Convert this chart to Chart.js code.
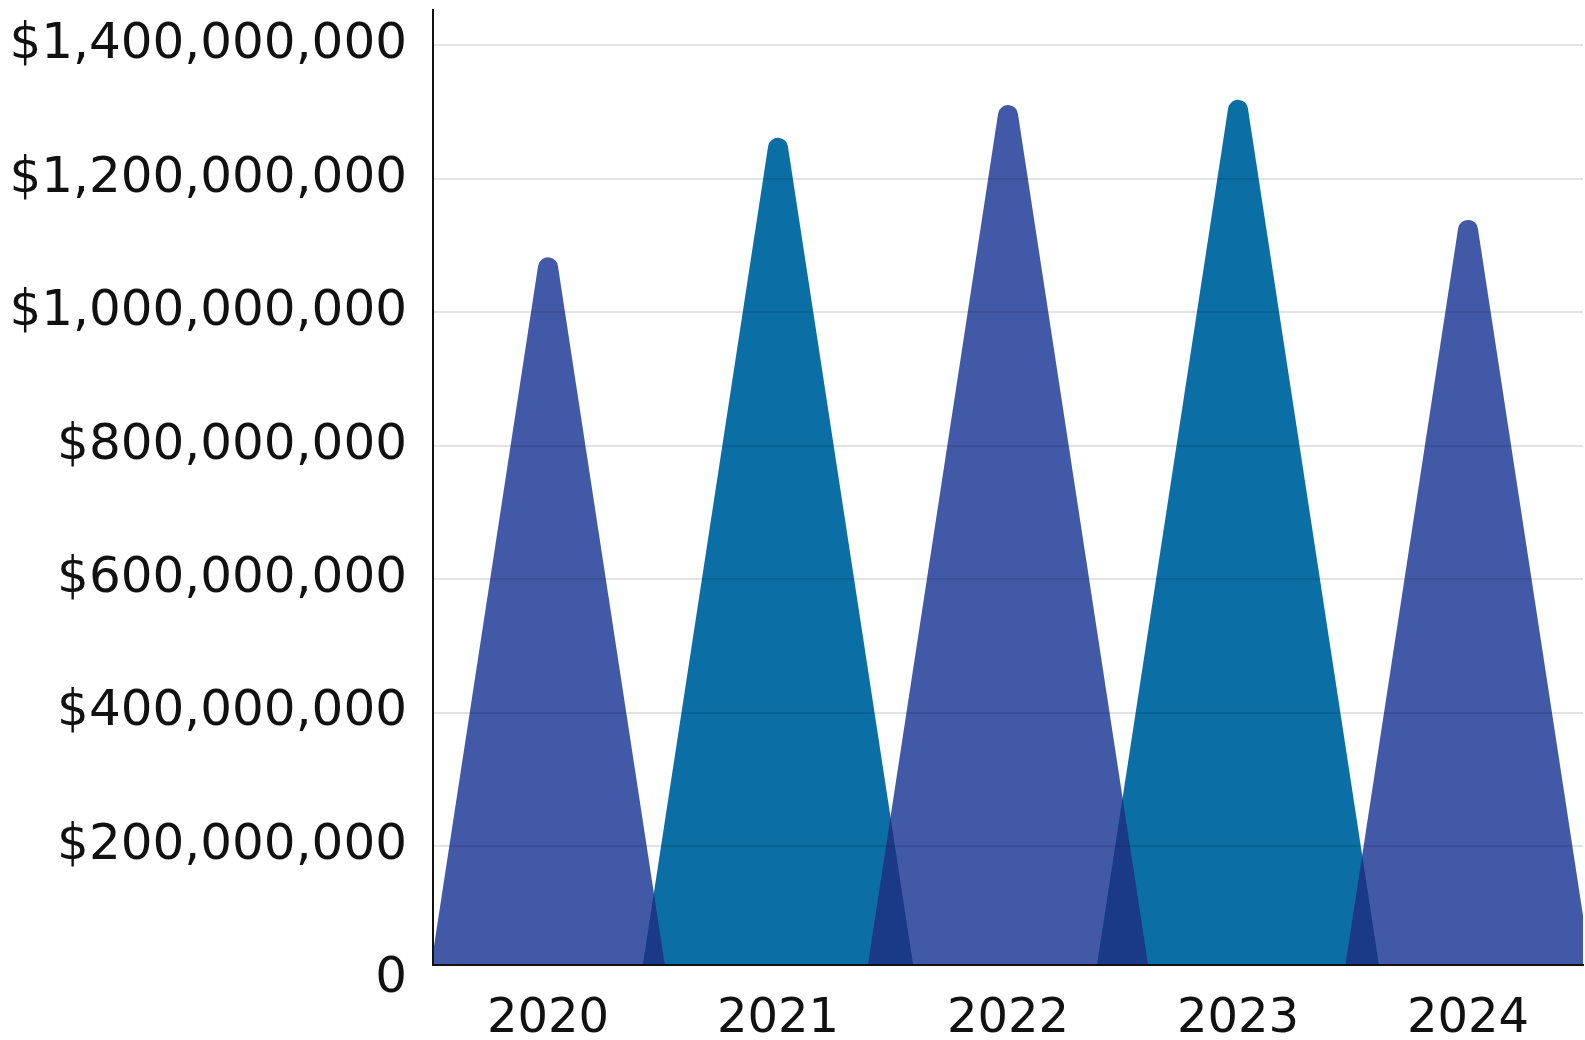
<!DOCTYPE html>
<html>
<head>
<meta charset="utf-8">
<script src="https://cdn.jsdelivr.net/npm/chart.js@4.4.1/dist/chart.umd.min.js"></script>
<style>
  html, body { margin: 0; padding: 0; background: #fff; }
  #wrap { width: 1585px; height: 1040px; }
</style>
</head>
<body>
<div id="wrap"><canvas id="chart"></canvas></div>
<script>
// chart data
const years = ['2020', '2021', '2022', '2023', '2024'];
const amounts = [1082000000, 1261000000, 1310000000, 1318000000, 1138000000];
const peakColors = ['#4259a8', '#0b6fa6', '#4259a8', '#0b6fa6', '#4259a8'];
const yTicks = [0, 200000000, 400000000, 600000000, 800000000, 1000000000, 1200000000, 1400000000];

const overlapColor = '#1a3a88';
const tipRadius = 10;
const sideSlope = 0.153;

// builds the peak outline (triangle with rounded tip) for one bar element
function peakPath(ctx, x, top, base) {
    const apex = top + tipRadius;
    const H = base - apex;
    const hw = H * sideSlope;
    const L = Math.sqrt(H * H + hw * hw);
    const ox = tipRadius * H / L;
    const oy = tipRadius * hw / L;
    const aL = Math.atan2(-hw, -H);
    const aR = Math.atan2(-hw, H);
    ctx.beginPath();
    ctx.moveTo(x - hw - ox, base - oy);
    ctx.arc(x, apex, tipRadius, aL, aR, false);
    ctx.lineTo(x + hw + ox, base - oy);
    ctx.lineTo(x + hw + ox, base + 40);
    ctx.lineTo(x - hw - ox, base + 40);
    ctx.closePath();
}

const peaksPlugin = {
    id: 'peaks',
    beforeDatasetDraw(chart, args) {
        const ctx = chart.ctx;
        const area = chart.chartArea;
        const base = chart.scales.y.getPixelForValue(0);
        const bars = args.meta.data;
        ctx.save();
        ctx.beginPath();
        ctx.rect(area.left, area.top, area.right - area.left, area.bottom - area.top);
        ctx.clip();
        bars.forEach((bar, i) => {
            peakPath(ctx, bar.x, bar.y, base);
            ctx.fillStyle = peakColors[i];
            ctx.fill();
        });
        for (let i = 0; i < bars.length - 1; i++) {
            ctx.save();
            peakPath(ctx, bars[i].x, bars[i].y, base);
            ctx.clip();
            peakPath(ctx, bars[i + 1].x, bars[i + 1].y, base);
            ctx.fillStyle = overlapColor;
            ctx.fill();
            ctx.restore();
        }
        ctx.restore();
        return false;
    }
};

const ctx = document.getElementById('chart').getContext('2d');
new Chart(ctx, {
    type: 'bar',
    data: {
        labels: years,
        datasets: [{
            data: amounts,
            backgroundColor: peakColors
        }]
    },
    plugins: [peaksPlugin],
    options: {
        responsive: true,
        maintainAspectRatio: false,
        animation: false,
        layout: { padding: { top: 10, right: 2, left: 0, bottom: 0 } },
        plugins: {
            legend: { display: false },
            tooltip: { enabled: false }
        },
        scales: {
            x: {
                grid: { display: false, drawTicks: false },
                border: { display: true, color: '#111', width: 2, z: 1 },
                ticks: {
                    color: '#111',
                    padding: 26,
                    font: { family: 'DejaVu Sans', size: 48 }
                },
                afterFit(scale) {
                    scale.height = 75;
                    scale.paddingLeft = 0;
                    scale.paddingRight = 0;
                }
            },
            y: {
                min: 21700000,
                max: 1452500000,
                afterBuildTicks(scale) {
                    scale.ticks = yTicks.map(v => ({ value: v }));
                },
                grid: {
                    z: 1,
                    drawTicks: false,
                    lineWidth: 2,
                    color: c => (c.tick && c.tick.value === 0) ? 'rgba(0,0,0,0)' : 'rgba(0,0,0,0.11)'
                },
                border: { display: true, color: '#111', width: 2, z: 1 },
                ticks: {
                    color: '#111',
                    padding: 26,
                    font: { family: 'DejaVu Sans', size: 50 },
                    callback: v => v === 0 ? '0' : '$' + v.toLocaleString('en-US')
                },
                afterFit(scale) {
                    scale.width = 433;
                    scale.paddingTop = 0;
                    scale.paddingBottom = 0;
                }
            }
        }
    }
});
</script>
</body>
</html>
